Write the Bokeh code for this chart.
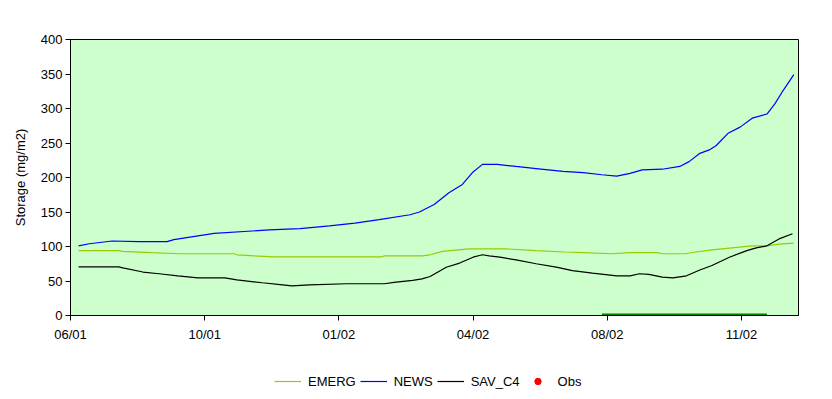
from bokeh.plotting import figure
from bokeh.models import Range1d, FixedTicker, Legend, LegendItem
from bokeh.layouts import column
from bokeh.embed import file_html
from bokeh.resources import INLINE

# x positions are in units of the evenly spaced date ticks (0 = 06/01, 1 = 10/01, ...)
tick_pos = [0, 1, 2, 3, 4, 5]
tick_labels = ["06/01", "10/01", "01/02", "04/02", "08/02", "11/02"]

news_x = [0.06, 0.14, 0.31, 0.51, 0.72, 0.77, 1.07, 1.48, 1.71, 1.93, 2.12, 2.30, 2.53, 2.60,
          2.71, 2.82, 2.92, 3.00, 3.07, 3.18, 3.32, 3.47, 3.67, 3.82, 3.96, 4.07, 4.17, 4.26,
          4.41, 4.54, 4.61, 4.69, 4.76, 4.81, 4.90, 4.99, 5.08, 5.19, 5.25, 5.31, 5.39]
news_y = [101, 104, 108, 107, 107, 110, 119, 124, 126, 130, 134, 139, 146, 150,
          161, 178, 190, 208, 219, 219, 216, 213, 209, 207, 204, 202, 206, 211,
          212, 216, 223, 235, 240, 246, 264, 273, 286, 292, 307, 326, 349]

emerg_x = [0.06, 0.36, 0.39, 0.60, 0.81, 1.22, 1.24, 1.37, 1.51, 2.32, 2.34, 2.62, 2.68, 2.77,
           2.97, 3.25, 3.47, 3.68, 3.82, 4.03, 4.17, 4.37, 4.41, 4.58, 4.66, 4.78, 4.93, 5.08,
           5.19, 5.28, 5.39]
emerg_y = [94, 94, 93, 91, 89.5, 89.5, 88, 86.5, 85, 85, 86.5, 86.5, 88, 93,
           96.5, 96.5, 94, 92, 91, 89.5, 91, 91, 89.5, 89.5, 92, 95, 98, 101,
           101, 103.5, 105]

sav_x = [0.06, 0.36, 0.39, 0.54, 0.66, 0.80, 0.95, 1.15, 1.24, 1.43, 1.58, 1.65, 1.78, 2.06,
         2.34, 2.41, 2.55, 2.62, 2.68, 2.80, 2.90, 3.00, 3.07, 3.12, 3.20, 3.32, 3.47, 3.62,
         3.74, 3.89, 4.07, 4.17, 4.24, 4.31, 4.41, 4.49, 4.59, 4.69, 4.78, 4.91, 5.04, 5.11,
         5.19, 5.28, 5.38]
sav_y = [70.5, 70.5, 69, 63, 60.5, 57.5, 54.5, 54.5, 51.5, 47.5, 44.5, 43, 44.5, 46,
         46, 48, 51, 53, 56.5, 70, 76, 84.5, 88, 86.5, 84.5, 80.5, 75, 70,
         65, 61.5, 57.5, 57.5, 60.5, 59.5, 55.5, 54.5, 57.5, 66, 72.5, 84.5, 94, 98,
         101, 111, 118.5]

# observations: none fall inside the plotted window
obs_x = []
obs_y = []

period_x = [3.96, 5.19]
period_y = [0, 0]

FONT = "Liberation Sans"
C_EMERG, C_NEWS, C_SAV, C_OBS = "#99CC00", "#0000FF", "#000000", "#FF0000"

p = figure(width=816, height=345, output_backend="svg", toolbar_location=None,
           x_range=Range1d(0, 5.425), y_range=Range1d(0, 400),
           min_border_left=70, min_border_right=18, min_border_top=39, min_border_bottom=30)

p.background_fill_color = "#CCFFCC"
p.border_fill_color = "white"
p.outline_line_color = "black"
p.outline_line_width = 1
p.xgrid.visible = False
p.ygrid.visible = False

p.line(emerg_x, emerg_y, line_color=C_EMERG, line_width=1.2)
p.line(news_x, news_y, line_color=C_NEWS, line_width=1.2)
p.line(sav_x, sav_y, line_color=C_SAV, line_width=1.2)
p.scatter(obs_x, obs_y, size=4, fill_color=C_OBS, line_color=C_OBS)
p.line(period_x, period_y, line_color="#008000", line_width=4)

p.xaxis.ticker = FixedTicker(ticks=tick_pos)
p.xaxis.major_label_overrides = {t: l for t, l in zip(tick_pos, tick_labels)}
p.yaxis.ticker = FixedTicker(ticks=list(range(0, 401, 50)))

for ax in (p.xaxis[0], p.yaxis[0]):
    ax.axis_line_color = "black"
    ax.major_tick_line_color = "black"
    ax.major_tick_in = 0
    ax.major_tick_out = 5
    ax.minor_tick_line_color = None
    ax.major_label_text_font = FONT
    ax.major_label_text_font_size = "13px"
    ax.major_label_text_color = "black"

p.xaxis.major_label_standoff = 6
p.yaxis.major_label_standoff = 3
p.yaxis.axis_label = "Storage (mg/m2)"
p.yaxis.axis_label_text_font = FONT
p.yaxis.axis_label_text_font_size = "13px"
p.yaxis.axis_label_text_font_style = "normal"
p.yaxis.axis_label_text_color = "black"
p.yaxis.axis_label_standoff = 10

# legend strip below the chart (its sample glyphs sit outside the strip's visible range)
lg = figure(width=816, height=46, output_backend="svg", toolbar_location=None,
            x_range=Range1d(0, 1), y_range=Range1d(0, 1), min_border=0)
lg.axis.visible = False
lg.grid.visible = False
lg.outline_line_color = None
lg.background_fill_color = "white"
lg.border_fill_color = "white"

hidden = [-2, -1]
l_emerg = lg.line(hidden, hidden, line_color=C_EMERG, line_width=1.2)
l_news = lg.line(hidden, hidden, line_color=C_NEWS, line_width=1.2)
l_sav = lg.line(hidden, hidden, line_color=C_SAV, line_width=1.2)
l_obs = lg.scatter(hidden, hidden, size=4, fill_color=C_OBS, line_color=C_OBS)

legend = Legend(items=[LegendItem(label="EMERG", renderers=[l_emerg]),
                       LegendItem(label="NEWS", renderers=[l_news]),
                       LegendItem(label="SAV_C4", renderers=[l_sav]),
                       LegendItem(label="Obs", renderers=[l_obs])],
                orientation="horizontal", location=(204, 2))
legend.border_line_color = None
legend.background_fill_alpha = 0
legend.label_text_font = FONT
legend.label_text_font_size = "13px"
legend.label_text_color = "black"
legend.glyph_width = 27
legend.glyph_height = 16
legend.label_standoff = 7
legend.spacing = 4
legend.padding = 0
legend.margin = 0
lg.add_layout(legend, "center")

layout = column(p, lg, spacing=0)
open("out.html", "w").write(file_html(layout, INLINE))
